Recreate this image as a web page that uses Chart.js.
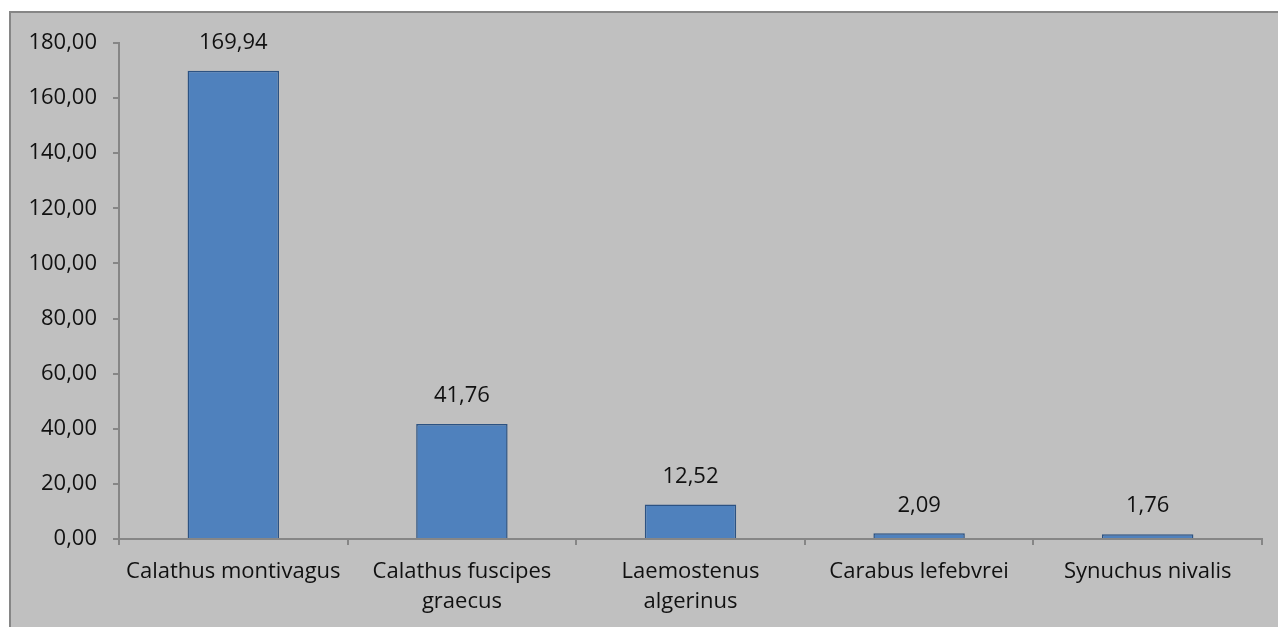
<!DOCTYPE html>
<html>
<head>
<meta charset="utf-8">
<script src="https://cdn.jsdelivr.net/npm/chart.js@4"></script>
<style>
  html, body { margin: 0; padding: 0; background: #fff; }
  #wrap { width: 1278px; height: 627px; }
</style>
</head>
<body>
<div id="wrap"><canvas id="chart" width="1278" height="627"></canvas></div>
<script>
// data
const species = [
    'Calathus montivagus',
    ['Calathus fuscipes', 'graecus'],
    ['Laemostenus', 'algerinus'],
    'Carabus lefebvrei',
    'Synuchus nivalis'
];
const values = [169.94, 41.76, 12.52, 2.09, 1.76];
const yMin = 0, yMax = 180, yStep = 20;

const FONT = '"Open Sans", "Liberation Sans", sans-serif';
const fmt = v => v.toFixed(2).replace('.', ',');

// grey frame behind the chart (open on the right, runs off the bottom)
const framePlugin = {
    id: 'frame',
    beforeDraw(chart) {
        const ctx = chart.ctx;
        ctx.save();
        ctx.fillStyle = '#c0c0c0';
        ctx.fillRect(9, 12, 1269, 615);
        ctx.strokeStyle = '#868686';
        ctx.lineWidth = 2;
        ctx.beginPath();
        ctx.moveTo(10, 627);
        ctx.lineTo(10, 12);
        ctx.lineTo(1278, 12);
        ctx.stroke();
        ctx.restore();
    }
};

// value labels over each bar
const valueLabels = {
    id: 'valueLabels',
    afterDatasetsDraw(chart) {
        const ctx = chart.ctx;
        const meta = chart.getDatasetMeta(0);
        ctx.save();
        ctx.font = '22px ' + FONT;
        ctx.fillStyle = '#111';
        ctx.textAlign = 'center';
        ctx.textBaseline = 'middle';
        meta.data.forEach((bar, i) => {
            ctx.fillText(fmt(values[i]), bar.x, bar.y - 28);
        });
        ctx.restore();
    }
};

new Chart(document.getElementById('chart'), {
    type: 'bar',
    data: {
        labels: species,
        datasets: [{
            data: values,
            backgroundColor: '#4f81bd',
            borderColor: '#2c5282',
            borderWidth: 1.5,
            barPercentage: 0.4,
            categoryPercentage: 1
        }]
    },
    options: {
        responsive: false,
        animation: false,
        layout: { padding: { top: 43, right: 16, left: 0, bottom: 0 } },
        plugins: { legend: { display: false }, tooltip: { enabled: false } },
        scales: {
            x: {
                afterFit: s => { s.height = 88; },
                grid: { drawOnChartArea: false, tickLength: 6, color: '#868686', lineWidth: 2 },
                border: { color: '#868686', width: 2 },
                ticks: {
                    color: '#111',
                    padding: 12,
                    maxRotation: 0,
                    autoSkip: false,
                    font: { family: FONT, size: 22, lineHeight: 1.36 }
                }
            },
            y: {
                min: yMin,
                max: yMax,
                afterFit: s => { s.width = 119; },
                grid: { drawOnChartArea: false, tickLength: 6, color: '#868686', lineWidth: 2 },
                border: { color: '#868686', width: 2 },
                ticks: {
                    stepSize: yStep,
                    color: '#111',
                    padding: 16,
                    font: { family: FONT, size: 22 },
                    callback: v => fmt(v)
                }
            }
        }
    },
    plugins: [framePlugin, valueLabels]
});
</script>
</body>
</html>
